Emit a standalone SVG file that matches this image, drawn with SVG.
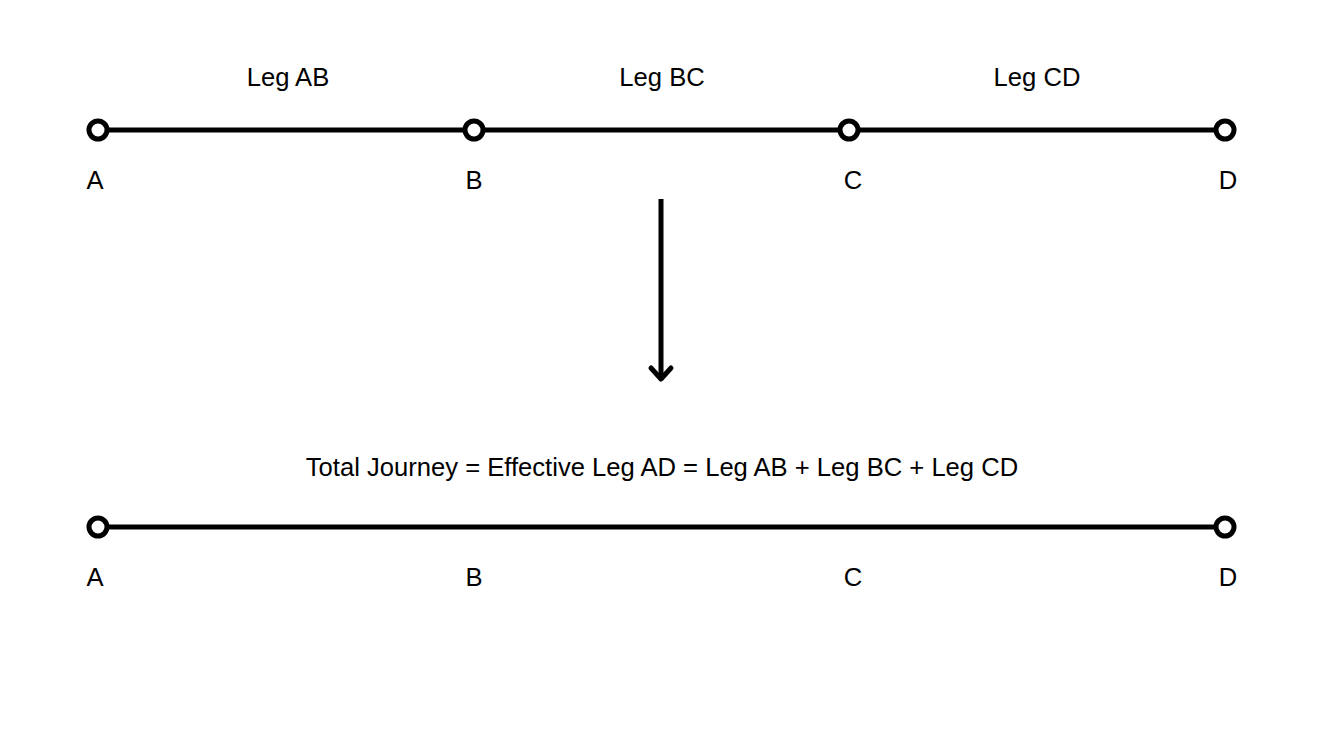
<svg xmlns="http://www.w3.org/2000/svg" width="1336" height="734" viewBox="0 0 1336 734">
<style>
text{font-family:"Liberation Sans",Arial,sans-serif;font-size:25.6px;fill:#000;text-anchor:middle}
.seg{stroke:#000;stroke-width:5;fill:none}
.pt{fill:#fff;stroke:#000;stroke-width:5}
.arr{stroke:#000;stroke-width:5;fill:none;stroke-linecap:round;stroke-linejoin:round}
</style>
<rect width="1336" height="734" fill="#fff"/>
<g id="connectors">
<line class="seg" x1="98" y1="130" x2="474" y2="130"/>
<line class="seg" x1="474" y1="130" x2="849" y2="130"/>
<line class="seg" x1="849" y1="130" x2="1225" y2="130"/>
<line class="seg" x1="98" y1="527" x2="1225" y2="527"/>
<line class="arr" x1="661" y1="199" x2="661" y2="378" style="stroke-linecap:butt"/>
<polyline class="arr" points="651,368 661,379 671,368"/>
</g>
<g id="labels-top">
<text x="288" y="86">Leg AB</text>
<text x="662" y="86">Leg BC</text>
<text x="1037" y="86">Leg CD</text>
</g>
<g id="node-A"><circle class="pt" cx="98" cy="130" r="9"/><text x="95" y="189">A</text></g>
<g id="node-B"><circle class="pt" cx="474" cy="130" r="9"/><text x="474" y="189">B</text></g>
<g id="node-C"><circle class="pt" cx="849" cy="130" r="9"/><text x="853" y="189">C</text></g>
<g id="node-D"><circle class="pt" cx="1225" cy="130" r="9"/><text x="1228" y="189">D</text></g>
<g id="total"><text x="662" y="476">Total Journey = Effective Leg AD = Leg AB + Leg BC + Leg CD</text></g>
<g id="node-A2"><circle class="pt" cx="98" cy="527" r="9"/><text x="95" y="586">A</text></g>
<g id="node-B2"><text x="474" y="586">B</text></g>
<g id="node-C2"><text x="853" y="586">C</text></g>
<g id="node-D2"><circle class="pt" cx="1225" cy="527" r="9"/><text x="1228" y="586">D</text></g>
</svg>
